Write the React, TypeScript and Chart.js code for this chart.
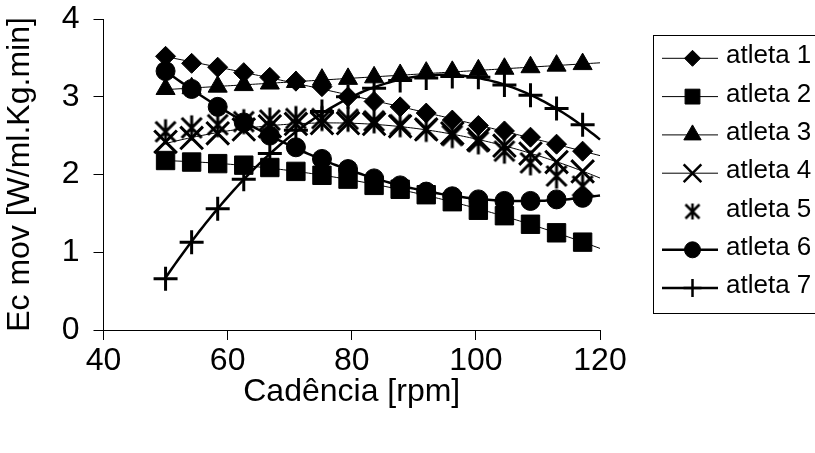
import React, { useEffect, useRef } from "react";
import { Chart, registerables } from "chart.js";
import { drawPoint } from "chart.js/helpers";

Chart.register(...registerables);

// Pedalling cadence (rpm) of each measurement
const cadence = [50, 54.2, 58.4, 62.6, 66.8, 71, 75.2, 79.4, 83.6, 87.8, 92, 96.2, 100.4, 104.6, 108.8, 113, 117.2];

// Ec mov [W/ml.Kg.min] per athlete
const atleta1 = [3.52, 3.43, 3.38, 3.31, 3.25, 3.2, 3.13, 3.0, 2.94, 2.87, 2.79, 2.7, 2.63, 2.56, 2.48, 2.39, 2.3];
const atleta2 = [2.18, 2.16, 2.14, 2.12, 2.09, 2.04, 1.99, 1.94, 1.86, 1.81, 1.74, 1.65, 1.54, 1.47, 1.36, 1.25, 1.13];
const atleta3 = [3.1, 3.11, 3.13, 3.15, 3.17, 3.19, 3.22, 3.23, 3.25, 3.28, 3.31, 3.32, 3.34, 3.36, 3.38, 3.4, 3.42];
const atleta4 = [2.42, 2.47, 2.53, 2.58, 2.62, 2.65, 2.66, 2.66, 2.65, 2.62, 2.58, 2.53, 2.45, 2.37, 2.27, 2.16, 2.04];
const atleta5 = [2.55, 2.6, 2.64, 2.68, 2.7, 2.72, 2.72, 2.71, 2.69, 2.64, 2.58, 2.5, 2.42, 2.3, 2.15, 1.98, 1.85];
const atleta6 = [3.33, 3.1, 2.87, 2.67, 2.5, 2.35, 2.2, 2.07, 1.95, 1.86, 1.78, 1.72, 1.68, 1.66, 1.66, 1.68, 1.7];
const atleta7 = [0.66, 1.13, 1.56, 1.94, 2.27, 2.57, 2.81, 3.0, 3.11, 3.21, 3.24, 3.26, 3.25, 3.15, 3.02, 2.85, 2.64];

const seriesNames = ["atleta 1", "atleta 2", "atleta 3", "atleta 4", "atleta 5", "atleta 6", "atleta 7"];
const seriesValues = [atleta1, atleta2, atleta3, atleta4, atleta5, atleta6, atleta7];

const xMin = 40;
const xMax = 120;
const xStep = 20;
const yMin = 0;
const yMax = 4;
const yStep = 1;
const trendEnd = 122; // polynomial trend lines are projected forward to here

const FONT = "'Liberation Sans', Arial, sans-serif";

// Asterisk marker: an X crossed by a vertical stroke
function makeAsterisk(size: number, arm: number, vert: number, lw: number) {
  const c = document.createElement("canvas");
  c.width = size;
  c.height = size;
  const g = c.getContext("2d")!;
  const m = size / 2;
  g.strokeStyle = "#000";
  g.lineWidth = lw;
  g.beginPath();
  g.moveTo(m - arm, m - arm);
  g.lineTo(m + arm, m + arm);
  g.moveTo(m + arm, m - arm);
  g.lineTo(m - arm, m + arm);
  g.moveTo(m, m - vert);
  g.lineTo(m, m + vert);
  g.stroke();
  return c;
}

// Second-order least squares fit, returned as a function of x
function quadFit(xs: number[], ys: number[]) {
  const n = xs.length;
  const mx = xs.reduce((a, b) => a + b, 0) / n;
  const s = [0, 0, 0, 0, 0];
  const t = [0, 0, 0];
  for (let i = 0; i < n; i++) {
    const u = xs[i] - mx;
    let p = 1;
    for (let k = 0; k < 5; k++) {
      s[k] += p;
      p *= u;
    }
    t[0] += ys[i];
    t[1] += ys[i] * u;
    t[2] += ys[i] * u * u;
  }
  const M = [
    [s[0], s[1], s[2]],
    [s[1], s[2], s[3]],
    [s[2], s[3], s[4]],
  ];
  const det3 = (A: number[][]) =>
    A[0][0] * (A[1][1] * A[2][2] - A[1][2] * A[2][1]) -
    A[0][1] * (A[1][0] * A[2][2] - A[1][2] * A[2][0]) +
    A[0][2] * (A[1][0] * A[2][1] - A[1][1] * A[2][0]);
  const D = det3(M);
  const coef = [0, 1, 2].map((col) => {
    const A = M.map((row, r) => row.map((v, c) => (c === col ? t[r] : v)));
    return det3(A) / D;
  });
  return (x: number) => {
    const u = x - mx;
    return coef[0] + coef[1] * u + coef[2] * u * u;
  };
}

type MarkerSpec = { style: any; radius: number; border: number; legendRadius: number; legendStyle?: any };

export default function App() {
  const canvasRef = useRef<HTMLCanvasElement | null>(null);

  useEffect(() => {
    const canvas = canvasRef.current;
    if (!canvas) return;

    const asteriskPlot = makeAsterisk(28, 10, 12.5, 3);
    const asteriskLegend = makeAsterisk(20, 7, 8, 2.5);

    const markers: MarkerSpec[] = [
      { style: "rectRot", radius: 10, border: 1, legendRadius: 8 },
      { style: "rect", radius: 13, border: 1, legendRadius: 10.5 },
      { style: "triangle", radius: 11, border: 1, legendRadius: 10 },
      { style: "crossRot", radius: 16, border: 3, legendRadius: 12.5 },
      { style: asteriskPlot, radius: 14, border: 0, legendRadius: 10, legendStyle: asteriskLegend },
      { style: "circle", radius: 9.5, border: 1, legendRadius: 8 },
      { style: "cross", radius: 12, border: 3, legendRadius: 9 },
    ];
    // trend line widths; atleta 5 has none
    const trendWidths = [1, 1, 1, 1, 0, 2.5, 2.5];

    const datasets: any[] = [];
    seriesValues.forEach((vals, i) => {
      datasets.push({
        label: seriesNames[i],
        data: cadence.map((x, k) => ({ x, y: vals[k] })),
        showLine: false,
        pointStyle: markers[i].style,
        pointRadius: markers[i].radius,
        pointHoverRadius: markers[i].radius,
        pointBorderWidth: markers[i].border,
        pointBackgroundColor: "#000",
        pointBorderColor: "#000",
        order: 6 - i,
      });
    });
    seriesValues.forEach((vals, i) => {
      if (!trendWidths[i]) return;
      const f = quadFit(cadence, vals);
      const pts: { x: number; y: number }[] = [];
      for (let x = cadence[0]; x <= trendEnd + 1e-9; x += 0.5) pts.push({ x, y: f(x) });
      datasets.push({
        label: seriesNames[i] + " (tendência)",
        data: pts,
        showLine: true,
        borderColor: "#000",
        borderWidth: trendWidths[i],
        pointRadius: 0,
        pointHoverRadius: 0,
        tension: 0,
        clip: false,
        order: 20,
      });
    });

    const legendPlugin = {
      id: "sideLegend",
      afterDraw(chart: any) {
        const ctx = chart.ctx as CanvasRenderingContext2D;
        const boxX = 653.5;
        const boxY = 35.5;
        const boxW = 200;
        const boxH = 278;
        ctx.save();
        ctx.strokeStyle = "#000";
        ctx.lineWidth = 1;
        ctx.strokeRect(boxX, boxY, boxW, boxH);
        const firstY = 58.3;
        const gap = 38.3;
        seriesNames.forEach((name, i) => {
          const y = firstY + i * gap;
          if (trendWidths[i]) {
            ctx.beginPath();
            ctx.strokeStyle = "#000";
            ctx.lineWidth = trendWidths[i];
            ctx.moveTo(662, y);
            ctx.lineTo(718, y);
            ctx.stroke();
          }
          ctx.fillStyle = "#000";
          ctx.strokeStyle = "#000";
          ctx.lineWidth = markers[i].border > 1 ? 2.5 : 1;
          drawPoint(
            ctx,
            {
              pointStyle: markers[i].legendStyle || markers[i].style,
              radius: markers[i].legendRadius,
              rotation: 0,
              borderWidth: markers[i].border > 1 ? 2.5 : markers[i].border,
            } as any,
            692.5,
            y
          );
          ctx.fillStyle = "#000";
          ctx.font = `26px ${FONT}`;
          ctx.textAlign = "left";
          ctx.textBaseline = "middle";
          ctx.fillText(name, 726, y - 2);
        });
        ctx.restore();
      },
    };

    const chart = new Chart(canvas, {
      type: "scatter",
      data: { datasets },
      options: {
        responsive: false,
        animation: false,
        devicePixelRatio: 1,
        events: [],
        layout: { padding: { left: 0, right: 215, top: 19, bottom: 0 } },
        plugins: { legend: { display: false }, tooltip: { enabled: false } },
        scales: {
          x: {
            type: "linear",
            min: xMin,
            max: xMax,
            ticks: { stepSize: xStep, color: "#000", font: { size: 32, family: FONT }, padding: 2, maxRotation: 0 },
            grid: { drawOnChartArea: false, tickLength: 10, color: "#000", lineWidth: 1 },
            border: { display: true, color: "#000", width: 1 },
            title: {
              display: true,
              text: "Cadência [rpm]",
              color: "#000",
              font: { size: 32, family: FONT },
              padding: { top: 0, bottom: 42 },
            },
            afterFit: (s: any) => {
              s.height = 123;
              s.paddingLeft = 0;
              s.paddingRight = 0;
            },
          },
          y: {
            type: "linear",
            min: yMin,
            max: yMax,
            ticks: { stepSize: yStep, color: "#000", font: { size: 32, family: FONT }, padding: 14 },
            grid: { drawOnChartArea: false, tickLength: 10, color: "#000", lineWidth: 1 },
            border: { display: true, color: "#000", width: 1 },
            title: {
              display: true,
              text: "Ec mov [W/ml.Kg.min]",
              color: "#000",
              font: { size: 32, family: FONT },
              padding: { top: 1, bottom: 0 },
            },
            afterFit: (s: any) => {
              s.width = 103.5;
              s.paddingTop = 0;
              s.paddingBottom = 0;
            },
          },
        },
      },
      plugins: [legendPlugin],
    });

    return () => chart.destroy();
  }, []);

  return (
    <div style={{ position: "fixed", left: 0, top: 0, width: 815, height: 453, background: "#fff" }}>
      <canvas ref={canvasRef} width={815} height={453} style={{ display: "block" }} />
    </div>
  );
}
